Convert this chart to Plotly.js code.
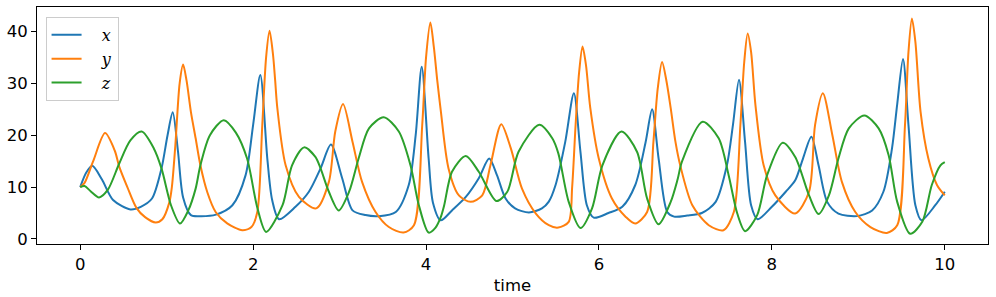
<!DOCTYPE html>
<html>
<head>
<meta charset="utf-8">
<script src="https://cdn.plot.ly/plotly-3.0.1.min.js"></script>
<style>html,body{margin:0;padding:0;background:#fff;}#chart{width:996px;height:297px;}</style>
</head>
<body>
<div id="chart"></div>
<script>
// Series x (blue)
var tX = [0.00,0.07,0.14,0.25,0.38,0.58,0.70,0.83,0.94,1.01,1.07,1.13,1.19,1.28,1.40,1.57,1.76,1.913,2.00,2.083,2.164,2.22,2.30,2.49,2.645,2.78,2.90,3.03,3.15,3.30,3.455,3.65,3.80,3.88,3.95,4.03,4.08,4.17,4.30,4.46,4.61,4.73,4.82,4.92,5.03,5.19,5.34,5.42,5.50,5.61,5.71,5.786,5.86,5.94,6.11,6.27,6.42,6.54,6.615,6.69,6.79,6.87,7.02,7.19,7.35,7.48,7.55,7.62,7.69,7.76,7.835,8.00,8.16,8.27,8.36,8.457,8.54,8.64,8.77,8.985,9.16,9.29,9.39,9.45,9.517,9.58,9.66,9.73,9.89,10.00];
var xVals = [10.0,12.8,14.1,11.5,7.5,5.7,6.2,7.8,13.6,20.0,24.4,17.0,8.0,4.6,4.4,4.7,6.5,12.3,22.0,31.6,15.5,7.5,3.8,6.2,9.1,13.6,18.2,11.7,5.5,4.6,4.4,5.2,10.4,20.0,33.2,15.5,7.0,3.6,5.5,8.1,11.7,15.5,12.3,7.8,5.9,5.1,5.9,7.2,10.5,18.7,28.1,16.8,6.5,4.1,5.0,6.2,10.4,18.7,25.0,15.5,5.2,4.3,4.5,5.0,7.15,14.2,22.0,30.7,18.7,6.5,3.8,6.2,9.1,11.3,15.5,19.7,14.2,7.15,4.9,4.4,5.5,9.1,17.5,26.0,34.7,22.0,6.5,3.6,6.5,9.1];

// Series y (orange)
var tY = [0.00,0.05,0.15,0.287,0.40,0.45,0.545,0.65,0.75,0.873,0.95,1.03,1.06,1.10,1.15,1.19,1.23,1.28,1.335,1.39,1.47,1.566,1.70,1.875,1.98,2.048,2.106,2.15,2.19,2.23,2.255,2.28,2.376,2.53,2.73,2.876,2.95,3.04,3.15,3.26,3.416,3.57,3.74,3.86,3.956,4.00,4.05,4.09,4.13,4.17,4.26,4.38,4.515,4.65,4.745,4.87,4.98,5.11,5.27,5.42,5.53,5.65,5.69,5.73,5.77,5.81,5.85,5.90,5.998,6.15,6.31,6.42,6.557,6.63,6.68,6.73,6.78,6.83,6.885,6.94,7.08,7.27,7.44,7.56,7.636,7.68,7.72,7.76,7.81,7.905,8.04,8.27,8.43,8.50,8.59,8.70,8.81,8.965,9.14,9.33,9.45,9.54,9.58,9.62,9.66,9.72,9.81,9.91,10.00];
var yVals = [10.0,10.8,15.0,20.4,17.0,14.0,10.0,6.0,4.2,3.17,3.8,7.0,10.0,18.0,30.0,33.6,30.5,24.5,19.4,14.2,9.0,5.2,3.0,1.68,2.3,5.2,22.0,35.0,40.1,35.5,30.5,25.2,14.2,8.1,5.9,11.0,20.7,26.0,18.7,11.0,5.2,2.3,1.23,2.65,22.0,35.0,41.7,37.0,30.5,24.8,13.6,8.4,7.15,8.4,14.2,22.1,17.5,9.7,4.9,2.65,2.2,3.3,10.0,22.0,32.0,37.1,33.5,25.2,15.5,7.8,4.25,2.97,5.2,18.7,29.0,34.1,30.5,25.2,18.7,14.2,6.5,2.65,1.68,5.2,22.0,34.0,39.6,36.0,25.8,14.2,8.4,4.9,9.1,22.0,28.1,20.0,11.0,5.2,2.3,1.16,2.65,22.0,36.0,42.5,38.0,24.5,15.5,10.4,8.4];

// Series z (green)
var tZ = [0.00,0.05,0.12,0.218,0.32,0.45,0.58,0.711,0.85,0.94,1.05,1.154,1.25,1.335,1.39,1.50,1.66,1.80,1.93,2.05,2.15,2.34,2.45,2.59,2.72,2.78,2.876,2.99,3.11,3.22,3.34,3.51,3.685,3.82,3.917,4.03,4.11,4.17,4.21,4.30,4.46,4.61,4.815,4.94,5.07,5.31,5.46,5.53,5.65,5.786,5.92,6.04,6.26,6.44,6.557,6.69,6.83,6.91,6.96,7.20,7.385,7.50,7.60,7.69,7.83,7.945,8.125,8.27,8.43,8.54,8.66,8.77,8.89,9.07,9.235,9.35,9.45,9.60,9.74,9.85,9.95,10.00];
var zVals = [10.0,10.2,9.2,8.0,9.5,14.5,19.0,20.7,17.5,13.6,6.5,2.97,5.5,9.7,14.2,20.0,22.9,20.5,15.5,5.9,1.35,6.5,14.2,17.65,15.8,13.6,9.1,5.5,9.1,15.5,21.3,23.45,20.7,14.2,6.5,1.23,2.2,4.2,6.5,12.95,16.0,12.95,7.3,9.1,16.8,22.0,19.4,16.5,7.15,2.1,5.9,14.2,20.7,16.8,7.8,2.84,7.15,11.5,14.9,22.6,19.4,12.3,4.9,1.5,4.6,12.3,18.55,15.8,8.4,4.8,8.4,15.5,21.3,23.8,21.3,16.2,7.15,1.0,3.3,10.4,14.2,14.8];

var names = ['&nbsp;&nbsp;&nbsp;<i>x</i>', '&nbsp;&nbsp;&nbsp;<i>y</i>', '&nbsp;&nbsp;&nbsp;<i>z</i>'];
var colors = ['#1f77b4', '#ff7f0e', '#2ca02c'];
var ts = [tX, tY, tZ];
var vs = [xVals, yVals, zVals];

var traces = ts.map(function(t, i){
  return {x: t, y: vs[i], name: names[i], type: 'scatter', mode: 'lines',
          line: {color: colors[i], width: 2, shape: 'spline', smoothing: 0.8}};
});

var axisCommon = {
  showgrid: false, zeroline: false, showline: true, mirror: true,
  linecolor: '#000', linewidth: 1, ticks: 'outside', ticklen: 5, tickwidth: 1,
  tickcolor: '#000', tickfont: {family: 'DejaVu Sans', size: 16.5, color: '#000'}
};

var layout = {
  width: 996, height: 297,
  margin: {l: 37, r: 8, t: 7, b: 53},
  paper_bgcolor: '#fff', plot_bgcolor: '#fff',
  showlegend: true,
  legend: {x: 0.009, y: 0.958, xanchor: 'left', yanchor: 'top',
           bgcolor: 'rgba(255,255,255,0.8)', bordercolor: '#ccc', borderwidth: 1,
           font: {family: 'DejaVu Serif', size: 16, color: '#000'}, tracegroupgap: 0},
  xaxis: Object.assign({}, axisCommon, {range: [-0.5, 10.5], tickvals: [0,2,4,6,8,10],
          title: {text: 'time', font: {family: 'DejaVu Sans', size: 16.5, color: '#000'}, standoff: 6}}),
  yaxis: Object.assign({}, axisCommon, {range: [-0.97, 44.7], tickvals: [0,10,20,30,40]})
};

Plotly.newPlot('chart', traces, layout, {displayModeBar: false, staticPlot: true});
</script>
</body>
</html>
